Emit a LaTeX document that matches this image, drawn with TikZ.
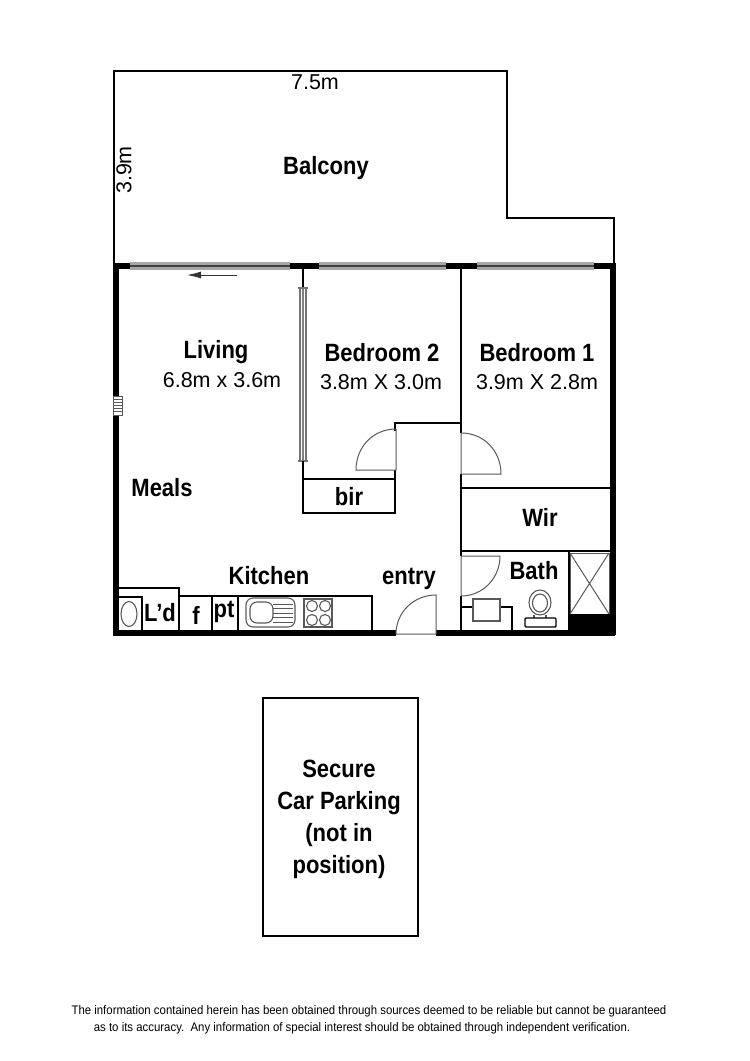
\documentclass[tikz,border=0pt]{standalone}
\usepackage{fontspec}
\setmainfont{Liberation Sans}
\newfontfamily\planbold[FakeStretch=0.88]{Liberation Sans Bold}
\newfontfamily\plannarrow[FakeStretch=0.92]{Liberation Sans}
\usetikzlibrary{arrows.meta}

\begin{document}
\begin{tikzpicture}[%
		x=1pt, y=-1pt,
		roomlabel/.style={
			inner sep=0pt,
			align=center,
			font=\planbold\fontsize{25}{32}\selectfont
		},
		sizelabel/.style={
			inner sep=0pt,
			font=\fontsize{21.5}{24}\selectfont
		},
		notelabel/.style={
			inner sep=0pt,
			font=\plannarrow\fontsize{12.4}{17}\selectfont
		},
		heavywall/.style={
			line width=6pt,
			black
		},
		wall/.style={
			line width=2.6pt,
			black,
			line join=miter
		},
		fitting/.style={
			line width=1.1pt,
			black!65
		},
		leaf/.style={
			line width=1pt,
			black!65
		},
		glazing/.style={
			line width=7.5pt,
			black!35
		},
		glazecore/.style={
			line width=1.2pt,
			black!75
		},
		slideband/.style={
			line width=1.2pt,
			black!55
		}]

		% BALCONY

		\draw[wall] (114,265) -- (114,71) -- (507,71) -- (507,218) -- (614,218) -- (614,265);

		% GLAZING ALONG THE BALCONY

		\foreach \xa/\xb in {130/290, 319/446, 477/594} {
			\draw[glazing] (\xa,266) -- (\xb,266);
			\draw[glazecore] (\xa,266) -- (\xb,266);
		}
		\foreach \xa/\xb in {113/130, 290/319, 446/477, 594/615}
			\draw[heavywall] (\xa,266) -- (\xb,266);

		% OUTER WALLS

		\draw[heavywall] (116,263) -- (116,635);
		\draw[heavywall] (612.5,263) -- (612.5,635);
		\draw[heavywall] (113,632.5) -- (396,632.5);
		\draw[heavywall] (436,632.5) -- (615,632.5);

		% INNER WALLS

		\draw[wall] (303,268) -- (303,288);
		\draw[slideband] (300,288) -- (300,461);
		\draw[slideband] (306,288) -- (306,461);
		\draw[glazecore,black!50] (303,288) -- (303,461);
		\draw[slideband] (298,288) -- (308,288);
		\draw[slideband] (298,461) -- (308,461);
		\draw[wall] (303,461) -- (303,513) -- (395,513) -- (395,470);
		\draw[wall] (303,479) -- (395,479);
		\draw[wall] (395,431) -- (395,423) -- (461,423) -- (461,268);
		\draw[wall] (461,423) -- (461,433);
		\draw[wall] (461,474) -- (461,556);
		\draw[wall] (461,596) -- (461,631);
		\draw[wall] (461,488) -- (611,488);
		\draw[wall] (461,551) -- (611,551);
		\draw[wall] (569,551) -- (569,631);

		% VENT

		\draw[leaf,fill=white] (113,396) rectangle (122,415);
		\foreach \ya in {399,402,...,413}
			\draw[leaf] (113,\ya) -- (122,\ya);

		% SLIDING ARROW

		\draw[-{Latex[length=14pt,width=7pt]},line width=1pt,black!80] (237,275) -- (187,275);

		% DOORS

		\draw[leaf] (396,429) -- (396,470) -- (356,470) .. controls (356,447) and (373,429) .. (396,429);
		\draw[leaf] (461,433) -- (461,474) -- (501,474) .. controls (501,451) and (484,433) .. (461,433);
		\draw[leaf] (461,596) -- (461,556) -- (500,556) .. controls (500,578) and (483,596) .. (461,596);
		\draw[leaf] (396,634) -- (436,634) -- (436,595) .. controls (414,595) and (396,612) .. (396,634);

		% KITCHEN AND LAUNDRY

		\draw[wall,line width=1.6pt] (119,588) -- (179,588) -- (179,630);
		\draw[wall,line width=1.6pt] (179,596) -- (372,596) -- (372,630);
		\draw[wall,line width=1.4pt] (119,597) -- (142,597) -- (142,630);
		\draw[wall,line width=1.4pt] (212,596) -- (212,630);
		\draw[wall,line width=1.4pt] (238,596) -- (238,630);
		\draw[fitting] (129,614) ellipse [x radius=8, y radius=12.5];
		\draw[fitting,rounded corners=7pt] (246,598) rectangle (295,627);
		\draw[fitting,rounded corners=7pt] (250,602) rectangle (273,623);
		\foreach \ya in {604,608.5,...,622}
			\draw[fitting,line width=0.9pt] (273,\ya) -- (293,\ya);
		\draw[fitting] (304,599) rectangle (332,627);
		\foreach \xa in {312,325}
			\foreach \ya in {606,620}
				\draw[fitting] (\xa,\ya) circle [radius=5.5];

		% BATHROOM

		\draw[wall,line width=1.5pt] (461,607) -- (473,607);
		\draw[wall,line width=1.5pt] (500,607) -- (512,607) -- (512,631);
		\draw[fitting,fill=white] (473,599) rectangle (500,621);
		\draw[fitting] (540,602.5) ellipse [x radius=11, y radius=12.5];
		\draw[fitting] (540,603) ellipse [x radius=7.5, y radius=9];
		\draw[fitting] (534,615) -- (534,618) (546,615) -- (546,618);
		\draw[wall,line width=1.4pt,rounded corners=1pt] (525,618) rectangle (556,627);
		\draw[leaf] (570,553) rectangle (609,614);
		\draw[leaf] (570,553) -- (609,614) (609,553) -- (570,614);
		\fill[black] (569,614) rectangle (610,630);

		% CAR PARK

		\draw[wall] (263,698) rectangle (418,936);

		% LABELS

		\node (balconyW) [sizelabel] at (315,82) {7.5m};
		\node (balconyD) [sizelabel,rotate=90] at (124,170) {3.9m};
		\node (balcony) [roomlabel] at (326,168.5) {Balcony};
		\node (living) [roomlabel] at (216,352) {Living};
		\node (livingS) [sizelabel] at (222,380) {6.8m x 3.6m};
		\node (bed2) [roomlabel] at (382,353) {Bedroom 2};
		\node (bed2S) [sizelabel] at (381,382) {3.8m X 3.0m};
		\node (bed1) [roomlabel] at (537,353) {Bedroom 1};
		\node (bed1S) [sizelabel] at (537,382) {3.9m X 2.8m};
		\node (meals) [roomlabel] at (162,488) {Meals};
		\node (bir) [roomlabel] at (349,497) {bir};
		\node (wir) [roomlabel] at (540,517) {Wir};
		\node (kitchen) [roomlabel] at (269,576) {Kitchen};
		\node (entry) [roomlabel] at (409,579) {entry};
		\node (bath) [roomlabel] at (534,571) {Bath};
		\node (laundry) [roomlabel] at (160,613) {L’d};
		\node (fridge) [roomlabel] at (196,615) {f};
		\node (pantry) [roomlabel] at (224,612) {pt};
		\node (parking) [roomlabel] at (339,819) {Secure\\Car Parking\\(not in\\position)};
		\node (note1) [notelabel] at (369,1011) {The information contained herein has been obtained through sources deemed to be reliable but cannot be guaranteed};
		\node (note2) [notelabel] at (362,1028) {as to its accuracy.\ \ Any information of special interest should be obtained through independent verification.};

		\useasboundingbox (0,0) rectangle (750,1061);
\end{tikzpicture}
\end{document}
